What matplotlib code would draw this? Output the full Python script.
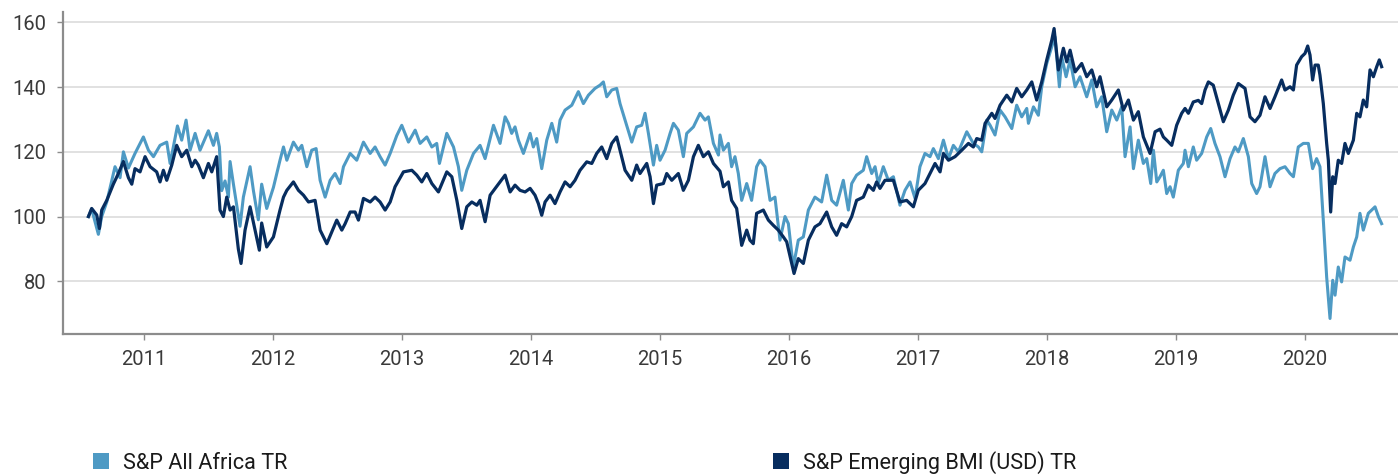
import matplotlib
matplotlib.use("Agg")
import matplotlib.pyplot as plt
from matplotlib.patches import Rectangle

# Data: time in decimal years, index level (start = 100)
africa_t = [
    2010.571, 2010.596, 2010.648, 2010.674, 2010.713, 2010.777, 2010.816, 2010.842, 2010.881, 2010.932,
    2010.997, 2011.036, 2011.075, 2011.126, 2011.178, 2011.204, 2011.261, 2011.294, 2011.328, 2011.359,
    2011.398, 2011.436, 2011.501, 2011.540, 2011.565, 2011.586, 2011.604, 2011.630, 2011.656, 2011.669,
    2011.695, 2011.746, 2011.772, 2011.824, 2011.850, 2011.888, 2011.914, 2011.953, 2012.005, 2012.056,
    2012.083, 2012.109, 2012.160, 2012.199, 2012.225, 2012.264, 2012.302, 2012.336, 2012.367, 2012.406,
    2012.445, 2012.483, 2012.522, 2012.548, 2012.600, 2012.651, 2012.703, 2012.755, 2012.793, 2012.832,
    2012.871, 2012.910, 2012.961, 2013.000, 2013.052, 2013.104, 2013.142, 2013.194, 2013.233, 2013.271,
    2013.292, 2013.349, 2013.401, 2013.439, 2013.465, 2013.504, 2013.556, 2013.607, 2013.646, 2013.711,
    2013.762, 2013.801, 2013.827, 2013.852, 2013.878, 2013.904, 2013.943, 2013.995, 2014.020, 2014.046,
    2014.085, 2014.124, 2014.163, 2014.201, 2014.227, 2014.266, 2014.318, 2014.369, 2014.408, 2014.447,
    2014.498, 2014.537, 2014.563, 2014.589, 2014.628, 2014.666, 2014.692, 2014.731, 2014.783, 2014.821,
    2014.860, 2014.886, 2014.912, 2014.951, 2014.976, 2015.002, 2015.041, 2015.080, 2015.106, 2015.144,
    2015.183, 2015.209, 2015.261, 2015.312, 2015.351, 2015.377, 2015.416, 2015.455, 2015.467, 2015.493,
    2015.532, 2015.557, 2015.583, 2015.609, 2015.635, 2015.674, 2015.712, 2015.751, 2015.777, 2015.816,
    2015.855, 2015.893, 2015.932, 2015.971, 2015.997, 2016.035, 2016.074, 2016.113, 2016.152, 2016.203,
    2016.255, 2016.294, 2016.333, 2016.371, 2016.423, 2016.462, 2016.488, 2016.526, 2016.578, 2016.604,
    2016.643, 2016.669, 2016.694, 2016.733, 2016.772, 2016.811, 2016.862, 2016.901, 2016.940, 2016.979,
    2017.017, 2017.056, 2017.095, 2017.121, 2017.160, 2017.199, 2017.238, 2017.276, 2017.315, 2017.380,
    2017.431, 2017.470, 2017.496, 2017.535, 2017.561, 2017.599, 2017.638, 2017.677, 2017.729, 2017.767,
    2017.806, 2017.845, 2017.858, 2017.897, 2017.935, 2017.961, 2018.000, 2018.039, 2018.064, 2018.098,
    2018.116, 2018.150, 2018.181, 2018.220, 2018.258, 2018.310, 2018.349, 2018.387, 2018.426, 2018.465,
    2018.504, 2018.543, 2018.581, 2018.607, 2018.646, 2018.672, 2018.710, 2018.749, 2018.775, 2018.806,
    2018.827, 2018.853, 2018.878, 2018.904, 2018.930, 2018.956, 2018.981, 2019.020, 2019.059, 2019.072,
    2019.098, 2019.136, 2019.162, 2019.201, 2019.240, 2019.271, 2019.304, 2019.343, 2019.382, 2019.421,
    2019.459, 2019.485, 2019.524, 2019.563, 2019.589, 2019.627, 2019.653, 2019.692, 2019.731, 2019.769,
    2019.808, 2019.847, 2019.886, 2019.912, 2019.950, 2019.989, 2020.028, 2020.061, 2020.092, 2020.118,
    2020.144, 2020.170, 2020.196, 2020.217, 2020.235, 2020.260, 2020.286, 2020.312, 2020.351, 2020.377,
    2020.403, 2020.428, 2020.454, 2020.493, 2020.545, 2020.571, 2020.596,
]
africa = [
    100, 102.3, 94.5, 100, 104.5, 115.4, 112, 120, 115, 119.5,
    124.6, 120.5, 118.5, 122, 123, 116.4, 128, 123.6, 129.8, 120.5,
    125.7, 120.5, 126.5, 122, 125.7, 121.5, 108, 111, 106, 117,
    110, 97, 106, 115.4, 108, 99, 110, 102.5, 109, 117.4,
    121.5, 117.4, 123, 120.5, 122, 115.4, 120.5, 121, 111.2, 106,
    111.2, 113.3, 110.2, 115.4, 119.5, 117.4, 123, 119.5, 121.5, 118.5,
    115.9, 119.5, 125, 128.2, 123, 126.7, 122.6, 124.6, 121.5, 122.6,
    116.4, 125.7, 121.5, 115.4, 108.1, 114.3, 119.5, 122, 117.9, 128.2,
    122.6, 130.8, 128.8, 125.7, 127.7, 123.6, 119.5, 125.7, 121.5, 124.1,
    114.8, 123.6, 128.8, 123, 129.8, 132.9, 134.4, 138.6, 134.9, 137.5,
    139.6, 140.6, 141.6, 137, 139.1, 139.6, 134.9, 129.8, 123, 127.7,
    128.2, 131.9, 125.7, 115.9, 122, 117.4, 120.5, 125.7, 128.8, 126.7,
    118.5, 125.7, 127.7, 131.9, 129.8, 130.8, 122.6, 119, 125.2, 120.5,
    122.6, 115.4, 118.5, 113.3, 105, 110.2, 105, 115.4, 117.4, 115.4,
    105, 106, 92.7, 100, 97.8, 84.4, 92.7, 93.7, 102, 106,
    104.5, 112.8, 105, 103.5, 111.2, 102, 110.2, 112.8, 114.3, 118.5,
    113.3, 115.4, 110.2, 115.4, 111.2, 112.3, 103.5, 108.1, 110.7, 105.6,
    115.4, 119.5, 118.5, 121, 117.9, 123.6, 117.9, 122, 120, 126.2,
    122.6, 121.5, 120, 129.8, 128.2, 125.2, 132.9, 130.8, 127.2, 134.4,
    130.8, 133.4, 128.8, 133.9, 131.3, 140.1, 147.3, 152.5, 155.5, 140.1,
    149.4, 143.2, 148.4, 140.1, 143.2, 137, 142.2, 133.9, 137, 126.2,
    132.9, 129.8, 133.9, 118.5, 127.7, 114.8, 123.6, 116.4, 117.9, 110.2,
    120.5, 110.7, 112.3, 114.3, 107.1, 109.2, 106, 114.3, 116.4, 120.5,
    115.4, 121.5, 117.4, 119.5, 124.6, 127.2, 122.6, 118.5, 112.3, 117.9,
    121.5, 120, 124.1, 118.5, 110.2, 107.1, 109.2, 118.5, 109.2, 113.3,
    114.8, 115.4, 113.3, 112.3, 121.5, 122.6, 122.6, 114.8, 117.9, 115.4,
    98.9, 81.3, 68.5, 80.3, 75.7, 84.4, 79.8, 87.5, 86.5, 90.6,
    93.7, 101, 95.8, 101, 103, 100, 97.8,
]

em_t = [
    2010.571, 2010.596, 2010.635, 2010.656, 2010.674, 2010.713, 2010.764, 2010.803, 2010.842, 2010.881,
    2010.907, 2010.932, 2010.971, 2011.010, 2011.049, 2011.100, 2011.126, 2011.152, 2011.178, 2011.217,
    2011.255, 2011.294, 2011.333, 2011.372, 2011.398, 2011.423, 2011.462, 2011.501, 2011.527, 2011.565,
    2011.591, 2011.617, 2011.643, 2011.669, 2011.695, 2011.733, 2011.754, 2011.785, 2011.824, 2011.863,
    2011.896, 2011.914, 2011.953, 2012.005, 2012.056, 2012.083, 2012.109, 2012.160, 2012.199, 2012.238,
    2012.277, 2012.328, 2012.367, 2012.419, 2012.458, 2012.496, 2012.535, 2012.561, 2012.600, 2012.638,
    2012.664, 2012.703, 2012.755, 2012.793, 2012.832, 2012.871, 2012.910, 2012.948, 2013.013, 2013.078,
    2013.116, 2013.155, 2013.194, 2013.233, 2013.284, 2013.349, 2013.388, 2013.427, 2013.465, 2013.504,
    2013.543, 2013.582, 2013.607, 2013.646, 2013.685, 2013.724, 2013.762, 2013.801, 2013.840, 2013.878,
    2013.917, 2013.956, 2013.995, 2014.033, 2014.059, 2014.085, 2014.111, 2014.150, 2014.188, 2014.227,
    2014.266, 2014.305, 2014.343, 2014.382, 2014.434, 2014.473, 2014.511, 2014.550, 2014.589, 2014.628,
    2014.666, 2014.692, 2014.731, 2014.783, 2014.821, 2014.847, 2014.899, 2014.925, 2014.951, 2014.976,
    2015.028, 2015.054, 2015.093, 2015.144, 2015.183, 2015.222, 2015.261, 2015.299, 2015.338, 2015.377,
    2015.416, 2015.467, 2015.493, 2015.532, 2015.557, 2015.596, 2015.635, 2015.674, 2015.699, 2015.725,
    2015.751, 2015.803, 2015.842, 2015.880, 2015.919, 2015.958, 2015.984, 2016.023, 2016.041, 2016.074,
    2016.113, 2016.152, 2016.203, 2016.242, 2016.294, 2016.333, 2016.371, 2016.410, 2016.449, 2016.488,
    2016.526, 2016.578, 2016.617, 2016.656, 2016.681, 2016.707, 2016.746, 2016.811, 2016.862, 2016.914,
    2016.966, 2017.004, 2017.056, 2017.095, 2017.134, 2017.173, 2017.199, 2017.238, 2017.289, 2017.341,
    2017.393, 2017.431, 2017.457, 2017.496, 2017.522, 2017.574, 2017.599, 2017.638, 2017.690, 2017.729,
    2017.767, 2017.806, 2017.845, 2017.884, 2017.922, 2017.961, 2018.000, 2018.039, 2018.057, 2018.090,
    2018.129, 2018.155, 2018.181, 2018.220, 2018.271, 2018.310, 2018.349, 2018.387, 2018.413, 2018.465,
    2018.504, 2018.555, 2018.594, 2018.633, 2018.672, 2018.710, 2018.749, 2018.801, 2018.840, 2018.878,
    2018.904, 2018.930, 2018.969, 2019.007, 2019.046, 2019.072, 2019.098, 2019.136, 2019.175, 2019.201,
    2019.227, 2019.253, 2019.291, 2019.330, 2019.369, 2019.408, 2019.446, 2019.485, 2019.537, 2019.576,
    2019.614, 2019.653, 2019.692, 2019.731, 2019.769, 2019.821, 2019.847, 2019.886, 2019.912, 2019.937,
    2019.976, 2020.002, 2020.023, 2020.041, 2020.061, 2020.080, 2020.105, 2020.118, 2020.144, 2020.170,
    2020.183, 2020.201, 2020.217, 2020.235, 2020.260, 2020.286, 2020.312, 2020.338, 2020.377, 2020.403,
    2020.428, 2020.454, 2020.480, 2020.506, 2020.532, 2020.558, 2020.578, 2020.596,
]
em = [
    100, 102.5, 100.5, 96.3, 102, 105, 110, 113.3, 117, 112,
    110, 114.8, 113.8, 118.5, 115.4, 113.8, 110.7, 114.3, 111.2, 115.9,
    122, 118.5, 120.5, 115.4, 117.4, 115.9, 112, 116.4, 113.8, 118.5,
    102, 100, 106, 102, 103, 90, 85.5, 95.8, 103, 95.8,
    89.6, 98, 90.6, 93.7, 102, 106, 108.1, 110.7, 108.1, 106.6,
    104.5, 105, 95.8, 91.6, 95.3, 98.9, 95.8, 97.8, 101.4, 101.4,
    98.9, 105.6, 104.5, 106, 104.5, 102, 104.5, 109.2, 113.8, 114.3,
    112.8, 110.7, 113.3, 110.2, 107.6, 113.8, 112.3, 105, 96.3, 103,
    104.5, 103.5, 105, 98.4, 106.6, 108.7, 110.7, 112.8, 107.6, 109.7,
    108.1, 107.6, 108.7, 106.6, 104, 100.4, 104.5, 106.6, 104, 107.6,
    110.7, 109.2, 111.2, 114.3, 116.9, 116.4, 119.5, 121.5, 117.9, 122.6,
    124.6, 120.5, 114.3, 111.2, 115.9, 113.3, 116.4, 112.3, 104, 109.7,
    110.2, 113.3, 111.2, 113.3, 108.1, 111.2, 118.5, 122, 118.5, 120,
    116.4, 114, 109.2, 110.7, 105, 102.5, 91.1, 95.8, 92.7, 91.6,
    101, 102, 98.9, 97.3, 95.8, 93.7, 92.2, 85.5, 82.4, 87,
    85.5, 92.7, 96.8, 97.8, 101.4, 96.8, 94.2, 97.8, 96.8, 100,
    105, 106, 109.7, 108.1, 110.7, 108.7, 111.2, 111.2, 104.5, 105,
    103, 108.1, 110.2, 113.3, 116.4, 113.8, 119.5, 117.4, 118.5, 120.5,
    122.6, 121.5, 124.1, 123.6, 128.8, 131.9, 130.3, 134.4, 137.5, 135.4,
    139.6, 137, 139.1, 141.6, 136, 141.6, 148.4, 154.5, 158.1, 145.3,
    152, 147.8, 151.4, 144.7, 147.3, 143.2, 145.3, 140.1, 143.2, 133.9,
    136, 139.1, 132.9, 136, 129.8, 132.4, 124.6, 119.5, 126.2, 127,
    124.6, 123.6, 122, 128.2, 131.9, 133.4, 131.9, 135.4, 135.9, 134.9,
    139.1, 141.6, 140.6, 134.9, 129.3, 132.9, 137.5, 141.1, 139.6, 130.8,
    129.3, 131.3, 137, 133.4, 137, 142.2, 139.1, 140.1, 139.1, 146.8,
    149.4, 150.4, 152.7, 149.9, 142.2, 146.8, 146.8, 143.7, 134.9, 122.6,
    117.4, 101.4, 112.3, 110.2, 117.4, 116.4, 122.6, 119.5, 123.6, 131.9,
    130.8, 136, 133.9, 145.3, 143.2, 146.3, 148.4, 146.3,
]

years = list(range(2011, 2021))
y_ticks = [80, 100, 120, 140, 160]
labels = ["S&P All Africa TR", "S&P Emerging BMI (USD) TR"]
colors = ["#4e9ac4", "#072d5f"]

plt.rcParams["font.family"] = ["Roboto", "DejaVu Sans"]

fig = plt.figure(figsize=(13.98, 4.75), dpi=100)
ax = fig.add_axes([0.0449, 0.2975, 0.9551, 0.6772])

ax.plot(africa_t, africa, color=colors[0], lw=2.2, solid_joinstyle="round", zorder=3)
ax.plot(em_t, em, color=colors[1], lw=2.3, solid_joinstyle="round", zorder=4)

ax.set_xlim(2010.372, 2020.723)
ax.set_ylim(63.8, 163.2)
ax.set_xticks(years)
ax.set_xticklabels([str(y) for y in years])
ax.set_yticks(y_ticks)

ax.grid(axis="y", color="#d9d9d9", lw=1.1)
ax.set_axisbelow(True)
for side in ["top", "right"]:
    ax.spines[side].set_visible(False)
for side in ["left", "bottom"]:
    ax.spines[side].set_color("#8c8c8c")
    ax.spines[side].set_linewidth(1.6)

ax.tick_params(axis="both", color="#8c8c8c", labelcolor="#3a3a3a", labelsize=14.5,
               length=4, width=1)
ax.tick_params(axis="x", pad=8)
ax.tick_params(axis="y", pad=8)

# legend at the bottom, drawn by hand
legend_x = [0.0667, 0.5532]
for x, lab, col in zip(legend_x, labels, colors):
    fig.add_artist(Rectangle((x, 0.0116), 0.01145, 0.035, transform=fig.transFigure,
                             facecolor=col, edgecolor="none"))
    fig.text(x + 0.0211, 0.0128, lab, fontsize=15.6, color="#1a1a1a",
             ha="left", va="baseline")

fig.savefig("out.png", dpi=100)
